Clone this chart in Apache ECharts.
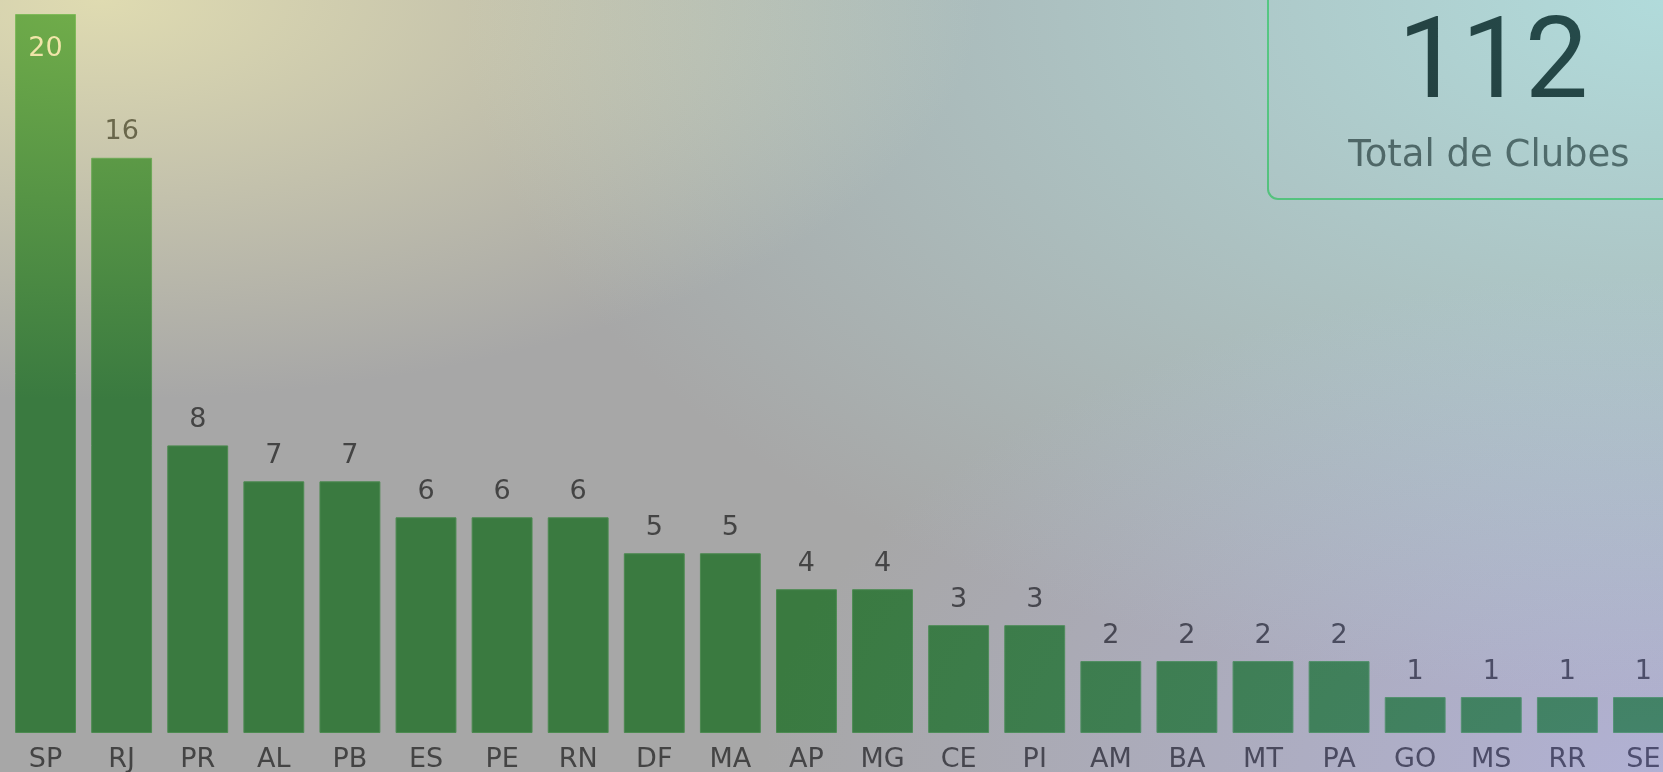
<!DOCTYPE html>
<html>
<head>
<meta charset="utf-8">
<script src="https://cdn.jsdelivr.net/npm/echarts@6/dist/echarts.min.js"></script>
<style>
  html, body { margin: 0; padding: 0; width: 1663px; height: 772px; overflow: hidden; background: #a7a7a7; }
  #chart { position: absolute; left: 0; top: 0; width: 1720px; height: 772px; }
  .ov { position: absolute; left: 0; top: 0; width: 1663px; height: 772px; pointer-events: none; mix-blend-mode: plus-lighter; }
  #ov1 { background: radial-gradient(ellipse 880px 400px at 100px 0px, rgba(56,52,10,1), rgba(56,52,10,0)); }
  #ov2 { background: radial-gradient(ellipse 1200px 700px at 1663px 0px, rgba(10,52,52,1), rgba(10,52,52,0)); }
  #ov3 { background: radial-gradient(ellipse 900px 500px at 1663px 772px, rgba(10,10,45,1), rgba(10,10,45,0)); }
</style>
</head>
<body>
<div id="chart"></div>
<div class="ov" id="ov1"></div>
<div class="ov" id="ov2"></div>
<div class="ov" id="ov3"></div>
<script>
const categories = ['SP','RJ','PR','AL','PB','ES','PE','RN','DF','MA','AP','MG','CE','PI','AM','BA','MT','PA','GO','MS','RR','SE'];
const clubs = [20,16,8,7,7,6,6,6,5,5,4,4,3,3,2,2,2,2,1,1,1,1];
const totalCaption = 'Total de Clubes';

const total = clubs.reduce((a, b) => a + b, 0);
const maxVal = Math.max(...clubs);

const chart = echarts.init(document.getElementById('chart'), null, { renderer: 'canvas' });
const seriesData = clubs.map((v, i) => {
  if (v === maxVal) {
    return { value: v, label: { position: 'insideTop', distance: 21, color: '#c0b8a0' } };
  }
  return v;
});

chart.setOption({
  backgroundColor: 'transparent',
  animation: false,
  grid: { left: 7.5, top: 14, width: 1674, height: 719, containLabel: false, outerBoundsMode: 'none' },
  xAxis: {
    type: 'category',
    data: categories,
    axisLine: { show: false },
    axisTick: { show: false },
    axisLabel: { fontFamily: 'DejaVu Sans', fontSize: 27, color: '#444', margin: 13 }
  },
  yAxis: {
    type: 'value', min: 0, max: 20, show: false,
    splitLine: { show: false }
  },
  series: [{
    type: 'bar',
    data: seriesData,
    barCategoryGap: '20%',
    itemStyle: { color: '#3a7a40', borderColor: '#4c8a50', borderWidth: 1 },
    label: {
      show: true, position: 'top', distance: 12,
      fontFamily: 'DejaVu Sans', fontSize: 27, color: '#444'
    }
  }],
  graphic: [
    {
      type: 'rect', z: 10,
      shape: { x: 1268, y: -30, width: 460, height: 229, r: 10 },
      style: { fill: 'none', stroke: '#4fa460', lineWidth: 2 }
    },
    {
      type: 'text', z: 10, x: 1493, y: 69,
      style: { text: String(total), fontFamily: 'Roboto', fontSize: 113, fill: '#1c1a1a', align: 'center', verticalAlign: 'middle' }
    },
    {
      type: 'text', z: 10, x: 1489, y: 156,
      style: { text: totalCaption, fontFamily: 'DejaVu Sans', fontSize: 37, fill: '#484444', align: 'center', verticalAlign: 'middle' }
    }
  ]
});
</script>
</body>
</html>
